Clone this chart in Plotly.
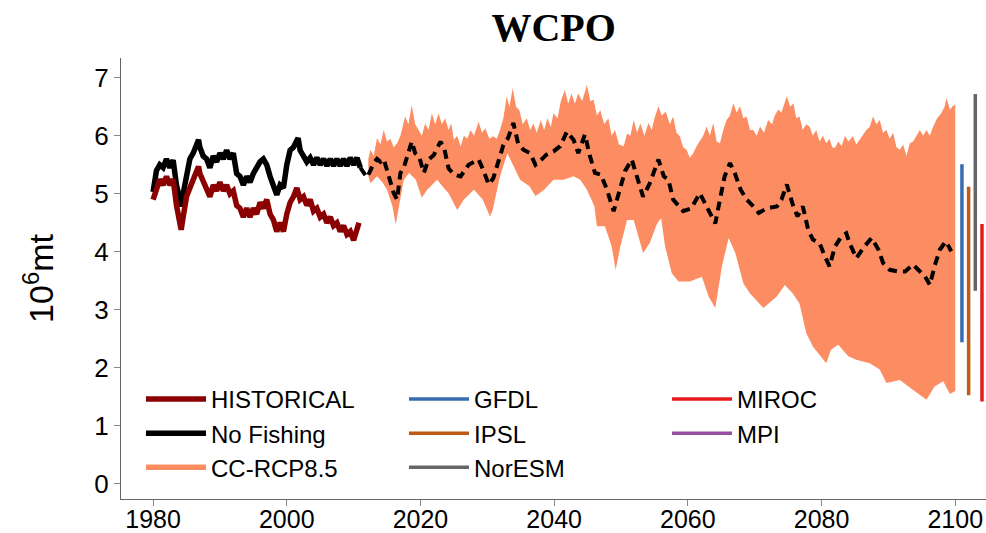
import plotly.graph_objects as go

# ---------------- data ----------------
hist_x = [1980.0, 1980.5, 1981.0, 1981.5, 1982.0, 1982.5, 1983.0, 1983.5, 1984.0, 1984.2, 1984.5,
          1985.0, 1985.5, 1986.0, 1986.5, 1986.8, 1987.0, 1987.5, 1988.0, 1988.5, 1989.0, 1989.5,
          1990.0, 1990.5, 1991.0, 1991.5, 1992.0, 1992.5, 1993.0, 1993.5, 1994.0, 1994.5, 1995.0,
          1995.5, 1996.0, 1996.5, 1997.0, 1997.5, 1998.0, 1998.5, 1999.0, 1999.5, 2000.0, 2000.5,
          2001.0, 2001.5, 2002.0, 2002.5, 2003.0, 2003.5, 2004.0, 2004.5, 2005.0, 2005.5, 2006.0,
          2006.5, 2007.0, 2007.5, 2008.0, 2008.5, 2009.0, 2009.5, 2010.0, 2010.5, 2010.8]
hist_y = [4.90, 5.10, 5.25, 5.15, 5.30, 5.15, 5.25, 4.80, 4.55, 4.38, 4.60,
          4.95, 5.10, 5.25, 5.35, 5.47, 5.35, 5.20, 5.10, 4.95, 5.15, 5.05,
          5.20, 5.05, 5.15, 5.00, 5.05, 4.80, 4.75, 4.60, 4.75, 4.60, 4.75,
          4.65, 4.85, 4.75, 4.90, 4.65, 4.55, 4.35, 4.50, 4.35, 4.65, 4.85,
          4.95, 5.10, 4.90, 4.95, 4.80, 4.90, 4.70, 4.75, 4.60, 4.65, 4.50,
          4.60, 4.45, 4.50, 4.35, 4.45, 4.30, 4.35, 4.20, 4.40, 4.50]

nofish_x = [1980.0, 1980.5, 1981.0, 1981.5, 1982.0, 1982.5, 1983.0, 1983.5, 1984.0, 1984.2, 1984.5,
            1985.0, 1985.5, 1986.0, 1986.5, 1986.8, 1987.0, 1987.5, 1988.0, 1988.5, 1989.0, 1989.5,
            1990.0, 1990.5, 1991.0, 1991.5, 1992.0, 1992.5, 1993.0, 1993.5, 1994.0, 1994.5, 1995.0,
            1995.5, 1996.0, 1996.5, 1997.0, 1997.5, 1998.0, 1998.5, 1999.0, 1999.5, 2000.0, 2000.5,
            2001.0, 2001.7, 2002.0, 2002.5, 2003.0, 2003.5, 2004.0, 2004.5, 2005.0, 2005.5, 2006.0,
            2006.5, 2007.0, 2007.5, 2008.0, 2008.5, 2009.0, 2009.5, 2010.0, 2010.5, 2011.0]
nofish_y = [5.03, 5.40, 5.50, 5.45, 5.60, 5.45, 5.58, 5.15, 4.90, 4.78, 5.00,
            5.35, 5.60, 5.70, 5.85, 5.93, 5.80, 5.65, 5.60, 5.45, 5.65, 5.55,
            5.70, 5.60, 5.75, 5.60, 5.70, 5.35, 5.30, 5.15, 5.30, 5.20, 5.35,
            5.45, 5.55, 5.60, 5.50, 5.30, 5.15, 4.98, 5.15, 5.10, 5.50, 5.75,
            5.80, 5.96, 5.75, 5.65, 5.55, 5.62, 5.50, 5.62, 5.50, 5.60, 5.48,
            5.60, 5.48, 5.60, 5.48, 5.60, 5.48, 5.62, 5.50, 5.62, 5.45]

mean_x = [2011.0, 2011.5, 2012.0, 2012.5, 2013.0, 2013.5, 2014.0, 2014.5, 2015.0, 2015.3, 2016.0,
          2016.5, 2017.0, 2017.5, 2018.0, 2018.7, 2019.2, 2019.8, 2020.5, 2021.2, 2022.0, 2023.0,
          2023.6, 2024.2, 2025.0, 2026.0, 2027.2, 2028.7, 2029.4, 2030.2, 2030.9, 2031.6, 2032.4,
          2033.1, 2033.9, 2034.6, 2035.4, 2036.4, 2037.2, 2038.1, 2038.8, 2039.9, 2040.9, 2041.9,
          2042.9, 2043.6, 2044.6, 2045.3, 2046.1, 2047.0, 2047.9, 2048.9, 2049.6, 2050.6, 2051.6,
          2052.3, 2053.3, 2054.3, 2055.6, 2056.4, 2057.1, 2057.8, 2059.3, 2060.5, 2061.8, 2062.8,
          2064.1, 2064.8, 2065.5, 2066.3, 2067.0, 2067.9, 2068.8, 2069.8, 2070.6, 2071.8, 2073.3,
          2074.0, 2074.8, 2075.7, 2076.4, 2077.2, 2078.0, 2078.7, 2079.7, 2080.5, 2081.2, 2082.0,
          2083.0, 2083.7, 2084.2, 2085.2, 2086.4, 2087.5, 2088.5, 2089.2, 2090.2, 2091.5, 2092.5,
          2093.7, 2094.5, 2095.5, 2096.2, 2096.9, 2097.7, 2098.6, 2099.4]
mean_y = [5.45, 5.35, 5.28, 5.40, 5.53, 5.60, 5.55, 5.60, 5.40, 5.24, 5.01,
          4.90, 5.36, 5.45, 5.64, 5.90, 5.70, 5.64, 5.36, 5.59, 5.67, 5.90,
          5.76, 5.44, 5.33, 5.30, 5.50, 5.59, 5.41, 5.16, 5.27, 5.53, 5.84,
          5.96, 6.22, 5.87, 5.76, 5.70, 5.50, 5.59, 5.67, 5.73, 5.82, 6.07,
          5.93, 5.70, 6.02, 5.67, 5.36, 5.33, 5.07, 4.70, 5.01, 5.39, 5.59,
          5.30, 4.95, 5.18, 5.59, 5.30, 5.24, 4.90, 4.70, 4.75, 5.01, 4.78,
          4.49, 4.90, 5.30, 5.53, 5.36, 5.07, 4.90, 4.78, 4.67, 4.75, 4.78,
          4.90, 5.16, 4.81, 4.61, 4.78, 4.38, 4.21, 4.15, 3.92, 3.75, 4.09,
          4.27, 4.32, 4.15, 3.89, 4.09, 4.24, 4.04, 3.81, 3.69, 3.66, 3.66,
          3.78, 3.69, 3.57, 3.43, 3.75, 4.04, 4.18, 4.01]

upper_x = [2012.2, 2012.5, 2013.0, 2013.5, 2014.0, 2014.5, 2015.0, 2015.5, 2016.0, 2016.5, 2017.0,
           2017.7, 2018.2, 2018.7, 2019.2, 2019.7, 2020.2, 2020.7, 2021.2, 2021.7, 2022.2, 2022.7,
           2023.2, 2023.7, 2024.2, 2024.6, 2025.0, 2025.5, 2026.0, 2026.5, 2027.0, 2027.5, 2028.0,
           2028.7, 2029.2, 2029.7, 2030.3, 2030.9, 2031.4, 2031.9, 2032.4, 2032.9, 2033.3, 2033.8,
           2034.3, 2034.8, 2035.3, 2035.9, 2036.4, 2036.9, 2037.4, 2038.0, 2038.5, 2039.0, 2039.5,
           2039.9, 2040.5, 2041.0, 2041.6, 2042.1, 2042.6, 2043.1, 2043.6, 2044.2, 2044.9, 2045.4,
           2045.9, 2046.4, 2046.9, 2047.5, 2048.1, 2048.6, 2049.1, 2049.7, 2050.4, 2050.9, 2051.4,
           2051.9, 2052.4, 2052.9, 2053.5, 2054.1, 2054.6, 2055.0, 2055.6, 2056.1, 2056.7, 2057.3,
           2057.8, 2058.3, 2058.8, 2059.3, 2059.8, 2060.3, 2060.8, 2061.3, 2061.8, 2062.3, 2062.8,
           2063.3, 2063.8, 2064.3, 2064.8, 2065.3, 2065.8, 2066.3, 2066.8, 2067.3, 2067.8, 2068.3,
           2068.8, 2069.3, 2069.8, 2070.3, 2070.8, 2071.4, 2072.0, 2072.6, 2073.0, 2073.5, 2074.0,
           2074.5, 2074.8, 2075.3, 2075.8, 2076.2, 2076.7, 2077.2, 2077.7, 2078.2, 2078.7, 2079.2,
           2079.7, 2080.2, 2080.7, 2081.2, 2081.6, 2082.0, 2082.5, 2083.0, 2083.5, 2084.0, 2084.7,
           2085.2, 2085.7, 2086.2, 2086.7, 2087.2, 2087.7, 2088.2, 2088.7, 2089.2, 2089.7, 2090.2,
           2090.7, 2091.2, 2091.7, 2092.2, 2092.7, 2093.2, 2093.7, 2094.2, 2094.7, 2095.2, 2095.7,
           2096.2, 2096.7, 2097.3, 2097.9, 2098.4, 2098.7, 2099.2, 2099.6, 2100.0]
upper_y = [5.60, 5.76, 5.65, 5.96, 5.85, 6.10, 5.90, 5.95, 5.80, 5.87, 6.00,
           6.33, 6.20, 6.53, 6.20, 6.10, 6.00, 6.21, 6.10, 6.39, 6.20, 6.39,
           6.20, 6.30, 6.10, 6.21, 5.93, 6.00, 5.82, 6.00, 5.95, 6.10, 6.00,
           6.24, 6.05, 6.13, 5.95, 5.99, 5.95, 6.10, 6.30, 6.68, 6.50, 6.82,
           6.50, 6.44, 6.20, 6.30, 6.10, 6.21, 6.05, 6.27, 6.10, 6.30, 6.15,
           6.39, 6.30, 6.60, 6.79, 6.55, 6.73, 6.55, 6.73, 6.60, 6.88, 6.60,
           6.62, 6.35, 6.44, 6.20, 6.30, 6.00, 6.10, 5.85, 5.82, 6.04, 6.00,
           6.27, 6.05, 6.21, 6.00, 6.22, 6.10, 6.30, 6.51, 6.35, 6.42, 6.20,
           6.33, 6.05, 5.99, 5.80, 5.76, 5.62, 5.70, 5.82, 5.90, 6.00, 6.16,
           6.00, 6.22, 5.90, 5.87, 6.10, 6.27, 6.35, 6.56, 6.40, 6.51, 6.30,
           6.33, 6.10, 6.10, 6.00, 6.16, 6.05, 6.27, 6.20, 6.35, 6.45, 6.40,
           6.60, 6.68, 6.50, 6.56, 6.30, 6.33, 6.10, 6.20, 6.16, 6.00, 6.10,
           5.90, 6.00, 5.87, 5.95, 5.80, 5.79, 5.90, 5.82, 6.00, 5.90, 5.99,
           5.85, 5.93, 6.00, 6.10, 6.15, 6.33, 6.20, 6.27, 6.05, 6.10, 5.95,
           6.05, 5.80, 5.76, 5.85, 5.65, 5.87, 5.90, 6.00, 6.10, 6.00, 6.10,
           6.00, 6.16, 6.30, 6.39, 6.50, 6.65, 6.45, 6.51, 6.54]

lower_x = [2012.2, 2012.5, 2013.5, 2014.3, 2015.0, 2015.8, 2016.3, 2016.8, 2017.5, 2018.3, 2019.3,
           2020.2, 2021.0, 2022.5, 2023.5, 2024.2, 2025.5, 2026.5, 2028.0, 2029.3, 2030.4, 2030.8,
           2031.9, 2033.0, 2033.7, 2034.9, 2036.3, 2037.2, 2038.5, 2039.9, 2041.4, 2042.9, 2043.9,
           2044.9, 2046.0, 2046.4, 2047.6, 2048.6, 2049.2, 2049.9, 2050.9, 2051.9, 2052.6, 2053.3,
           2054.3, 2055.4, 2056.0, 2056.6, 2057.6, 2058.6, 2060.3, 2062.1, 2063.1, 2064.1, 2065.1,
           2066.1, 2067.1, 2068.3, 2069.3, 2071.3, 2073.3, 2074.5, 2075.7, 2076.7, 2077.7, 2078.7,
           2080.7, 2081.4, 2082.5, 2084.0, 2085.2, 2087.2, 2088.7, 2089.7, 2091.7, 2093.7, 2095.7,
           2096.9, 2098.2, 2099.2, 2100.0]
lower_y = [5.30, 5.18, 5.30, 5.20, 5.07, 4.79, 4.47, 4.79, 5.24, 5.36, 5.24,
           4.93, 5.07, 5.24, 5.10, 5.01, 4.72, 4.90, 5.07, 4.90, 4.61, 4.72,
           5.30, 5.70, 5.53, 5.24, 5.13, 4.96, 5.07, 5.24, 5.24, 5.30, 5.24,
           5.07, 4.79, 4.44, 4.44, 4.09, 3.69, 4.09, 4.55, 4.55, 4.26, 3.98,
           4.15, 4.49, 4.58, 4.09, 3.63, 3.49, 3.49, 3.57, 3.23, 3.03, 3.75,
           4.24, 3.98, 3.46, 3.28, 3.03, 3.23, 3.43, 3.28, 3.11, 2.60, 2.37,
           2.08, 2.31, 2.40, 2.20, 2.14, 2.08, 1.97, 1.74, 1.79, 1.62, 1.45,
           1.68, 1.77, 1.55, 1.60]

# end-of-century model ranges
models = ["GFDL", "IPSL", "NorESM", "MIROC", "MPI"]
model_year = [2101, 2102, 2103, 2104, None]
model_low = [2.44, 1.53, 3.33, 1.42, None]
model_high = [5.51, 5.12, 6.72, 4.48, None]
model_colors = ["#386CB0", "#BF5B17", "#666666", "#E41A1C", "#984EA3"]

x_ticks = [1980, 2000, 2020, 2040, 2060, 2080, 2100]
y_ticks = [0, 1, 2, 3, 4, 5, 6, 7]

RIBBON = "#FC8D62"

fig = go.Figure()

# CC-RCP8.5 ribbon
fig.add_trace(go.Scatter(
    x=upper_x + lower_x[::-1], y=upper_y + lower_y[::-1],
    fill="toself", fillcolor=RIBBON, mode="lines",
    line=dict(width=0, color=RIBBON), hoverinfo="skip", showlegend=False))

# No fishing (historical period)
fig.add_trace(go.Scatter(x=nofish_x, y=nofish_y, mode="lines", name="No Fishing",
                         line=dict(color="black", width=5.5), legendrank=4))
# Historical
fig.add_trace(go.Scatter(x=hist_x, y=hist_y, mode="lines", name="HISTORICAL",
                         line=dict(color="#8B0000", width=5.5), legendrank=1))
# Projection mean (dashed)
fig.add_trace(go.Scatter(x=mean_x, y=mean_y, mode="lines", showlegend=False,
                         line=dict(color="black", width=4, dash="9px,6px")))
# legend entry for the ribbon
fig.add_trace(go.Scatter(x=[None], y=[None], mode="lines", name="CC-RCP8.5",
                         line=dict(color=RIBBON, width=5.5), legendrank=7))

ranks = {"GFDL": 2, "IPSL": 5, "NorESM": 8, "MIROC": 3, "MPI": 6}
for m, yr, lo, hi, c in zip(models, model_year, model_low, model_high, model_colors):
    xs = [yr, yr] if yr is not None else [None]
    ys = [lo, hi] if yr is not None else [None]
    fig.add_trace(go.Scatter(x=xs, y=ys, mode="lines", name=m,
                             line=dict(color=c, width=3.5), legendrank=ranks[m]))

fig.update_layout(
    width=986, height=533,
    margin=dict(l=121, r=0, t=58, b=34, autoexpand=False),
    paper_bgcolor="white", plot_bgcolor="white",
    font=dict(family="Liberation Sans, Arial, sans-serif", color="black"),
    title=dict(text="<b>WCPO</b>", x=0.5615, xanchor="center", y=0.95, yanchor="middle",
               font=dict(family="Liberation Serif, Times New Roman, serif", size=40, color="black")),
    showlegend=True,
    legend=dict(orientation="h", x=0.0231, xanchor="left", y=0.277, yanchor="top",
                entrywidth=188, entrywidthmode="pixels", itemwidth=60,
                font=dict(size=24, color="black"), bgcolor="rgba(0,0,0,0)",
                traceorder="normal"),
)
fig.update_xaxes(range=[1975.2, 2104.6], tickvals=x_ticks, ticks="outside", ticklen=6,
                 tickcolor="#888", showline=True, linecolor="#666", linewidth=1,
                 showgrid=False, zeroline=False, tickfont=dict(size=25),
                 ticklabelstandoff=-8)
fig.update_yaxes(range=[-0.26, 7.34], tickvals=y_ticks, ticks="outside", ticklen=6,
                 tickcolor="#888", showline=True, linecolor="#666", linewidth=1,
                 showgrid=False, zeroline=False, tickfont=dict(size=26),
                 title=dict(text="10<sup>6</sup>mt", font=dict(size=34), standoff=30))

fig.write_html("out.html")
